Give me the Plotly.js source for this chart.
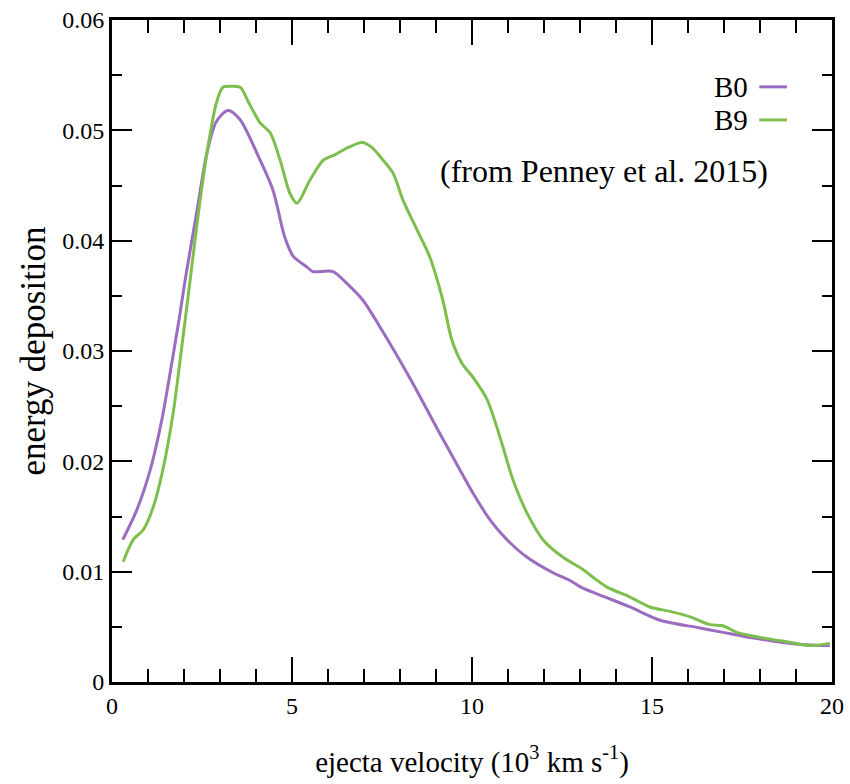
<!DOCTYPE html>
<html>
<head>
<meta charset="utf-8">
<script src="https://cdn.plot.ly/plotly-3.0.1.min.js"></script>
<style>html,body{margin:0;padding:0;background:#fff;}#chart{width:850px;height:784px;}</style>
</head>
<body>
<div id="chart"></div>
<script>
// Series B0 (purple)
const b0_x = [0.3, 0.69, 1.06, 1.38, 1.66, 1.89, 2.03, 2.35, 2.64, 2.9, 3.22, 3.55, 4.03, 4.47, 4.8, 5.03, 5.42, 5.58, 6.14, 6.5, 6.97, 7.44, 8.3, 9.06, 9.67, 10.03, 10.5, 10.97, 11.53, 12.25, 12.72, 13.08, 13.7, 14.39, 15.22, 16.33, 16.97, 17.6, 18.19, 19.11, 19.94];
const b0_y = [0.0129, 0.0156, 0.0192, 0.0237, 0.0289, 0.0334, 0.0364, 0.0425, 0.048, 0.0508, 0.0518, 0.051, 0.0479, 0.0446, 0.0403, 0.0386, 0.0376, 0.0372, 0.0372, 0.0362, 0.0346, 0.0322, 0.0274, 0.0228, 0.0192, 0.0171, 0.0147, 0.0129, 0.0113, 0.0099, 0.0092, 0.0085, 0.0077, 0.0068, 0.0056, 0.0049, 0.0045, 0.0041, 0.0038, 0.0034, 0.0033];
// Series B9 (green)
const b9_x = [0.31, 0.59, 0.87, 1.15, 1.43, 1.70, 1.94, 2.17, 2.4, 2.64, 2.9, 3.08, 3.3, 3.56, 3.8, 4.11, 4.39, 4.67, 4.94, 5.14, 5.5, 5.87, 6.2, 6.53, 6.94, 7.2, 7.53, 7.81, 8.08, 8.47, 8.83, 9.19, 9.44, 9.72, 10.03, 10.42, 10.69, 10.86, 11.14, 11.53, 11.97, 12.53, 13.08, 13.36, 13.75, 14.39, 14.94, 15.5, 16.06, 16.61, 16.97, 17.36, 18.08, 18.83, 19.39, 19.94];
const b9_y = [0.0109, 0.0129, 0.0138, 0.0159, 0.0195, 0.0244, 0.0304, 0.0364, 0.0425, 0.048, 0.0525, 0.0539, 0.054, 0.0539, 0.0525, 0.0507, 0.0498, 0.0473, 0.0443, 0.0434, 0.0455, 0.0473, 0.0478, 0.0484, 0.0489, 0.0485, 0.0473, 0.0461, 0.0437, 0.041, 0.0385, 0.0346, 0.031, 0.0289, 0.0276, 0.0256, 0.0231, 0.0213, 0.0183, 0.0153, 0.0129, 0.0113, 0.0102, 0.0095, 0.0086, 0.0077, 0.0068, 0.0064, 0.0059, 0.0052, 0.0051, 0.0045, 0.0040, 0.0036, 0.0033, 0.0035];

const seriesNames = ['B0', 'B9'];
const x_tickvals = [0, 5, 10, 15, 20];
const x_ticktext = ['0', '5', '10', '15', '20'];
const y_tickvals = [0, 0.01, 0.02, 0.03, 0.04, 0.05, 0.06];
const y_ticktext = ['0', '0.01', '0.02', '0.03', '0.04', '0.05', '0.06'];

const purple = '#9b6cc0';
const green = '#7dbf4c';
const serif = '"Liberation Serif", "Times New Roman", serif';

const traces = [
  {x: b0_x, y: b0_y, name: seriesNames[0], mode: 'lines', line: {color: purple, width: 3, shape: 'spline', smoothing: 0.8}, showlegend: false},
  {x: b9_x, y: b9_y, name: seriesNames[1], mode: 'lines', line: {color: green, width: 3, shape: 'spline', smoothing: 0.8}, showlegend: false}
];

const axisCommon = {
  showline: true, linecolor: '#000', linewidth: 3, mirror: 'allticks',
  ticks: 'inside', tickcolor: '#000', tickwidth: 2,
  showgrid: false, zeroline: false, tickmode: 'array',
  tickfont: {family: serif, size: 24, color: '#000'}
};

const layout = {
  width: 850, height: 784,
  margin: {l: 112, r: 18, t: 20, b: 102},
  paper_bgcolor: '#fff', plot_bgcolor: '#fff',
  showlegend: false,
  font: {family: serif, color: '#000'},
  xaxis: Object.assign({}, axisCommon, {
    range: [0, 20], tickvals: x_tickvals, ticktext: x_ticktext, ticklen: 25,
    minor: {ticks: 'inside', ticklen: 13, dtick: 1, tickcolor: '#000', tickwidth: 2, showgrid: false},
    title: {text: 'ejecta velocity (10<sup>3</sup> km s<sup>-1</sup>)', font: {family: serif, size: 29, color: '#000'}, standoff: 34}
  }),
  yaxis: Object.assign({}, axisCommon, {
    range: [0, 0.06], tickvals: y_tickvals, ticktext: y_ticktext, ticklen: 20,
    minor: {ticks: 'inside', ticklen: 10, dtick: 0.005, tickcolor: '#000', tickwidth: 2, showgrid: false},
    title: {text: 'energy deposition', font: {family: serif, size: 35, color: '#000'}, standoff: 6}
  }),
  annotations: [
    {xref: 'paper', yref: 'paper', x: 0.886, y: 0.899, xanchor: 'right', yanchor: 'middle', text: seriesNames[0], showarrow: false, font: {family: serif, size: 29, color: '#000'}},
    {xref: 'paper', yref: 'paper', x: 0.886, y: 0.849, xanchor: 'right', yanchor: 'middle', text: seriesNames[1], showarrow: false, font: {family: serif, size: 29, color: '#000'}},
    {xref: 'paper', yref: 'paper', x: 0.4528, y: 0.772, xanchor: 'left', yanchor: 'middle', text: '(from Penney et al. 2015)', showarrow: false, font: {family: serif, size: 32, color: '#000'}}
  ],
  shapes: [
    {type: 'line', xref: 'paper', yref: 'paper', x0: 0.899, x1: 0.9375, y0: 0.899, y1: 0.899, line: {color: purple, width: 3}},
    {type: 'line', xref: 'paper', yref: 'paper', x0: 0.899, x1: 0.9375, y0: 0.849, y1: 0.849, line: {color: green, width: 3}}
  ]
};

Plotly.newPlot('chart', traces, layout, {staticPlot: true, displayModeBar: false});
</script>
</body>
</html>
